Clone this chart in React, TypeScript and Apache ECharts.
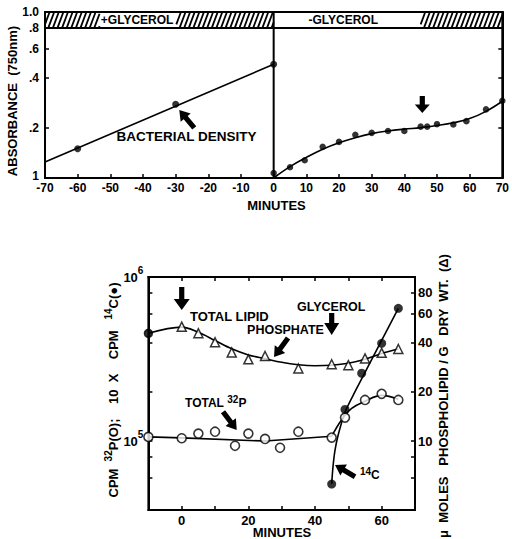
import React, { useEffect, useRef } from 'react';
import * as echarts from 'echarts';

const FONT = '"Liberation Sans", Arial, Helvetica, sans-serif';
const L = (v: number) => Math.log10(v);

// ---------- Upper panel: absorbance (750 nm) vs minutes ----------
const growthMinutes = [-60, -30, 0];
const growthAbs = [0.15, 0.278, 0.484];
const growthFitMinutes = [-70, 0];
const growthFitAbs = [0.125, 0.484];
const starvMinutes = [0, 5, 9.5, 15, 20, 25, 30, 35, 40, 45, 47, 50, 55, 59, 65, 70];
const starvAbs = [0.107, 0.116, 0.128, 0.154, 0.165, 0.182, 0.187, 0.192, 0.192, 0.204, 0.204, 0.211, 0.21, 0.22, 0.259, 0.292];
const starvFitMinutes = [0, 5, 10, 15, 20, 25, 30, 35, 40, 45, 50, 55, 60, 65, 70];
const starvFitAbs = [0.1, 0.117, 0.133, 0.149, 0.163, 0.175, 0.185, 0.192, 0.197, 0.201, 0.207, 0.215, 0.228, 0.252, 0.29];
const absTickValues = [0.1, 0.2, 0.4, 0.6, 0.8, 1.0];
const absTickLabels = ['1', '.2', '.4', '.6', '.8', '1.0'];
const glycerolHatched = [[-70, -53.3], [-29.8, 0], [45, 70]];
const glycerolBarBottom = 0.8;

// ---------- Lower panel ----------
const lipidMinutes = [-10, 0, 5, 10, 15, 20, 25, 35, 45, 50, 55, 60, 65];
const lipidUmol = [45.4, 49.8, 45.4, 40, 34.7, 31.5, 33, 27.7, 29.4, 29, 31.9, 34.5, 36.4];
const lipidFitMinutes = [-10, 0, 5, 10, 15, 20, 25, 30, 35, 40, 45, 50, 55, 60, 65];
const lipidFitUmol = [45.4, 49.5, 46, 41, 36.5, 33.5, 31.8, 30.2, 29.2, 28.8, 29, 29.8, 31.5, 34.2, 36.4];
const p32Minutes = [-10, 0, 5, 10, 16, 20, 25, 29.5, 35, 45, 49, 55, 60, 65];
const p32Cpm = [1.06e5, 1.04e5, 1.11e5, 1.14e5, 0.936e5, 1.11e5, 1.03e5, 0.91e5, 1.14e5, 1.05e5, 1.39e5, 1.78e5, 1.94e5, 1.78e5];
const p32FlatMinutes = [-10, 0, 25, 45];
const p32FlatCpm = [1.06e5, 1.045e5, 1.0e5, 1.07e5];
const p32RiseMinutes = [45, 48, 51, 55, 60, 65];
const p32RiseCpm = [1.07e5, 1.35e5, 1.58e5, 1.75e5, 1.9e5, 1.8e5];
const c14Minutes = [45, 49, 54, 60, 65];
const c14Cpm = [0.547e5, 1.56e5, 2.59e5, 3.94e5, 6.44e5];
const c14FitMinutes = [45, 45.4, 46, 47, 49, 52, 65];
const c14FitCpm = [0.547e5, 0.7e5, 0.88e5, 1.1e5, 1.5e5, 2.0e5, 6.44e5];
const cpmTicks = [6e4, 8e4, 1e5, 2e5, 4e5, 6e5, 8e5, 1e6];
const cpmLabelTicks = [1e5, 1e6];
const umolTicks = [6, 8, 10, 20, 40, 60, 80];
const umolLabelTicks = [10, 20, 40, 60, 80];
const lowerLabelMinutes = [0, 20, 40, 60];

const pairs = (xs: number[], ys: number[]) => xs.map((x, i) => [x, L(ys[i])]);

const txt = (size: number) => ({ fontFamily: FONT, fontWeight: 'bold' as const, fontSize: size, color: '#000' });

function buildOption() {
  const tickStyle = { show: true, inside: true, length: 4, lineStyle: { color: '#000', width: 1.5 } };
  const lineAxis = { show: true, onZero: false, lineStyle: { color: '#000', width: 2 } };
  return {
    animation: false,
    grid: [
      { left: 45, top: 12, width: 460, height: 166, show: true, borderColor: '#000', borderWidth: 2 },
      { left: 148.4, top: 277, width: 266.6, height: 233, show: true, borderColor: '#000', borderWidth: 2 },
    ],
    xAxis: [
      {
        type: 'value', gridIndex: 0, min: -70, max: 70, interval: 10, position: 'bottom',
        axisLine: lineAxis, axisTick: tickStyle, splitLine: { show: false },
        axisLabel: { ...txt(12), margin: 4, formatter: (v: number) => String(v) },
      },
      {
        type: 'value', gridIndex: 1, min: -10, max: 70, interval: 10, position: 'bottom',
        axisLine: lineAxis, axisTick: tickStyle, splitLine: { show: false },
        axisLabel: { ...txt(13), margin: 4, formatter: (v: number) => (lowerLabelMinutes.includes(v) ? String(v) : '') },
      },
      {
        type: 'value', gridIndex: 1, min: -10, max: 70, interval: 10, position: 'top',
        axisLine: lineAxis, axisTick: tickStyle, splitLine: { show: false }, axisLabel: { show: false },
      },
    ],
    yAxis: [
      {
        type: 'value', gridIndex: 0, min: -1, max: 0, position: 'left',
        axisLine: lineAxis, splitLine: { show: false },
        axisTick: { ...tickStyle, customValues: absTickValues.map(L) },
        axisLabel: {
          ...txt(12), margin: 6, customValues: absTickValues.map(L),
          formatter: (v: number) => {
            const i = absTickValues.findIndex((t) => Math.abs(L(t) - v) < 1e-6);
            if (i === 0) return '{lo|' + absTickLabels[0] + '}';
            return i >= 0 ? absTickLabels[i] : '';
          },
          rich: { lo: { ...txt(12), padding: [0, 0, 5, 0] } },
        },
      },
      {
        type: 'value', gridIndex: 0, min: -1, max: 0, position: 'right',
        axisLine: lineAxis, splitLine: { show: false },
        axisTick: { ...tickStyle, customValues: absTickValues.map(L) },
        axisLabel: { show: false },
      },
      {
        type: 'value', gridIndex: 1, min: L(38000), max: 6, position: 'left',
        axisLine: lineAxis, splitLine: { show: false },
        axisTick: { ...tickStyle, customValues: cpmTicks.map(L) },
        axisLabel: {
          margin: 5, customValues: cpmLabelTicks.map(L),
          formatter: (v: number) => `{b|10}{s|${Math.round(v)}}`,
          rich: {
            b: { ...txt(13) },
            s: { ...txt(10), padding: [0, 0, 13, 0] },
          },
        },
      },
      {
        type: 'value', gridIndex: 1, min: L(3.8), max: 2, position: 'right',
        axisLine: lineAxis, splitLine: { show: false },
        axisTick: { ...tickStyle, customValues: umolTicks.map(L) },
        axisLabel: {
          ...txt(13), margin: 3, customValues: umolLabelTicks.map(L),
          formatter: (v: number) => String(Math.round(Math.pow(10, v))),
        },
      },
    ],
    series: [
      {
        type: 'line', xAxisIndex: 0, yAxisIndex: 0, data: pairs(growthFitMinutes, growthFitAbs),
        showSymbol: false, lineStyle: { color: '#000', width: 1.6 }, z: 2,
      },
      {
        type: 'scatter', xAxisIndex: 0, yAxisIndex: 0, data: pairs(growthMinutes, growthAbs),
        symbol: 'circle', symbolSize: 7, itemStyle: { color: '#000' }, z: 3,
      },
      {
        type: 'line', xAxisIndex: 0, yAxisIndex: 0, data: pairs(starvFitMinutes, starvFitAbs),
        smooth: 0.4, showSymbol: false, lineStyle: { color: '#000', width: 1.6 }, z: 2,
      },
      {
        type: 'scatter', xAxisIndex: 0, yAxisIndex: 0, data: pairs(starvMinutes, starvAbs),
        symbol: 'circle', symbolSize: 6.5, itemStyle: { color: '#000' }, z: 3,
      },
      {
        type: 'custom', xAxisIndex: 0, yAxisIndex: 0, data: [[0, 0]], silent: true, z: 5, clip: false,
        renderItem: (_p: any, api: any) => {
          const children: any[] = [];
          const [xl, yt] = api.coord([-70, 0]);
          const [xr, yb] = api.coord([70, L(glycerolBarBottom)]);
          const h = yb - yt;
          children.push({ type: 'rect', shape: { x: xl, y: yt, width: xr - xl, height: h }, style: { fill: '#fff', stroke: '#000', lineWidth: 2 } });
          const slant = 6, step = 4.6;
          glycerolHatched.forEach(([a, b]) => {
            const x0 = api.coord([a, 0])[0];
            const x1 = api.coord([b, 0])[0];
            for (let s = x0 - slant; s < x1; s += step) {
              let ax = s, ay = yb, bx = s + slant, by = yt;
              if (ax < x0) { const t = (x0 - ax) / slant; ax = x0; ay = yb - t * h; }
              if (bx > x1) { const t = (bx - x1) / slant; bx = x1; by = yt + t * h; }
              if (bx <= ax) continue;
              children.push({ type: 'line', shape: { x1: ax, y1: ay, x2: bx, y2: by }, style: { stroke: '#000', lineWidth: 1.8 } });
            }
          });
          const d0 = api.coord([0, -1]);
          const d1 = api.coord([0, 0]);
          children.push({ type: 'line', shape: { x1: d0[0], y1: d0[1], x2: d1[0], y2: d1[1] }, style: { stroke: '#000', lineWidth: 2 } });
          return { type: 'group', children };
        },
      },
      {
        type: 'line', xAxisIndex: 1, yAxisIndex: 3, data: pairs(lipidFitMinutes, lipidFitUmol),
        smooth: 0.35, showSymbol: false, lineStyle: { color: '#000', width: 1.6 }, z: 2,
      },
      {
        type: 'scatter', xAxisIndex: 1, yAxisIndex: 3,
        data: pairs(lipidMinutes, lipidUmol).map((d, i) =>
          i === 0 ? { value: d, symbol: 'circle', symbolSize: 8, itemStyle: { color: '#000', borderColor: '#000' } } : d),
        symbol: 'triangle', symbolSize: 9, itemStyle: { color: '#fff', borderColor: '#000', borderWidth: 1.5 }, z: 3,
      },
      {
        type: 'line', xAxisIndex: 1, yAxisIndex: 2, data: pairs(p32FlatMinutes, p32FlatCpm),
        showSymbol: false, lineStyle: { color: '#000', width: 1.6 }, z: 2,
      },
      {
        type: 'line', xAxisIndex: 1, yAxisIndex: 2, data: pairs(p32RiseMinutes, p32RiseCpm),
        smooth: 0.4, showSymbol: false, lineStyle: { color: '#000', width: 1.6 }, z: 2,
      },
      {
        type: 'scatter', xAxisIndex: 1, yAxisIndex: 2, data: pairs(p32Minutes, p32Cpm),
        symbol: 'circle', symbolSize: 9, itemStyle: { color: '#fff', borderColor: '#000', borderWidth: 1.6 }, z: 3,
      },
      {
        type: 'line', xAxisIndex: 1, yAxisIndex: 2, data: pairs(c14FitMinutes, c14FitCpm),
        smooth: 0.3, showSymbol: false, lineStyle: { color: '#000', width: 1.6 }, z: 2,
      },
      {
        type: 'scatter', xAxisIndex: 1, yAxisIndex: 2, data: pairs(c14Minutes, c14Cpm),
        symbol: 'circle', symbolSize: 9, itemStyle: { color: '#000' }, z: 4,
      },
    ],
  };
}

function arrow(tip: number[], dx: number, dy: number, headLen: number, headHalf: number, shaftHalf: number) {
  const len = Math.hypot(dx, dy);
  const tail = [tip[0] + dx, tip[1] + dy];
  const rot = Math.atan2(dy, -dx);
  const b = len - headLen;
  return {
    type: 'polygon', x: tail[0], y: tail[1], rotation: rot, z: 100, silent: true,
    shape: { points: [[0, -shaftHalf], [b, -shaftHalf], [b, -headHalf], [len, 0], [b, headHalf], [b, shaftHalf], [0, shaftHalf]] },
    style: { fill: '#000' },
  };
}

function buildGraphic(chart: any) {
  const p0 = (x: number, v: number) => chart.convertToPixel({ xAxisIndex: 0, yAxisIndex: 0 }, [x, L(v)]) as number[];
  const p1 = (x: number, v: number) => chart.convertToPixel({ xAxisIndex: 1, yAxisIndex: 2 }, [x, L(v)]) as number[];
  const g: any[] = [];
  const text = (pt: number[], s: string, size: number, align = 'left', extra: any = {}) =>
    g.push({
      type: 'text', x: pt[0], y: pt[1], z: 100, silent: true, ...extra,
      style: { text: s, fontFamily: FONT, fontWeight: 'bold', fontSize: size, fill: '#000', align, verticalAlign: 'middle' },
    });
  const richSmall = {
    b: { fontFamily: FONT, fontWeight: 'bold', fontSize: 12, fill: '#000' },
    s: { fontFamily: FONT, fontWeight: 'bold', fontSize: 10, fill: '#000', padding: [0, 0, 8, 0] },
  };

  // upper panel
  text(p0(-48.1, 0.177), 'BACTERIAL DENSITY', 13.5);
  g.push(arrow(p0(-28.9, 0.257), 15, 18, 10, 6.5, 2.6));
  text(p0(-41.8, 0.894), '+GLYCEROL', 12, 'center');
  text(p0(21.3, 0.894), '-GLYCEROL', 12, 'center');
  g.push(arrow(p0(45.5, 0.246), 0, -17, 8.5, 7.5, 2.6));
  text([12, 101], 'ABSORBANCE  (750nm)', 13, 'center', { rotation: Math.PI / 2 });
  text([276.5, 205], 'MINUTES', 13, 'center');

  // lower panel
  g.push(arrow(p1(0, 6.3e5), 0, -23, 11, 8, 2.6));
  text(p1(2.48, 5.78e5), 'TOTAL LIPID', 13);
  text(p1(19.6, 4.75e5), 'PHOSPHATE', 12.5);
  g.push(arrow(p1(27.7, 3.25e5), 14, -19, 10, 6.5, 2.6));
  text(p1(34.6, 6.57e5), 'GLYCEROL', 12.5);
  g.push(arrow(p1(45, 4.43e5), 0, -22, 12, 7.5, 2.6));
  const tp = p1(1.0, 1.7e5);
  g.push({
    type: 'text', x: tp[0], y: tp[1], z: 100, silent: true,
    style: { text: '{b|TOTAL }{s|32}{b|P}', align: 'left', verticalAlign: 'middle', rich: richSmall },
  });
  g.push(arrow(p1(16.5, 1.167e5), -13.7, -18.3, 10, 6.5, 2.6));
  const cp = p1(53.5, 6.2e4);
  g.push({
    type: 'text', x: cp[0], y: cp[1], z: 100, silent: true,
    style: { text: '{s|14}{b|C}', align: 'left', verticalAlign: 'middle', rich: richSmall },
  });
  g.push(arrow(p1(46, 7.15e4), 20, 11.7, 10, 6.5, 2.6));
  text([282, 532], 'MINUTES', 13, 'center');

  const richT = {
    b: { fontFamily: FONT, fontWeight: 'bold', fontSize: 13, fill: '#000' },
    s: { fontFamily: FONT, fontWeight: 'bold', fontSize: 10, fill: '#000', padding: [0, 0, 9, 0] },
  };
  g.push({
    type: 'text', x: 113, y: 390, rotation: Math.PI / 2, z: 100, silent: true,
    style: {
      text: '{b|CPM  }{s|32}{b|P(O);    10  X    CPM   }{s|14}{b|C(●)}',
      align: 'center', verticalAlign: 'middle', rich: richT,
    },
  });
  g.push({
    type: 'text', x: 443, y: 396, rotation: Math.PI / 2, z: 100, silent: true,
    style: {
      text: 'μ  MOLES   PHOSPHOLIPID / G   DRY  WT.  (Δ)', fontFamily: FONT, fontWeight: 'bold', fontSize: 13,
      fill: '#000', align: 'center', verticalAlign: 'middle',
    },
  });
  return g;
}

export default function App() {
  const ref = useRef<HTMLDivElement>(null);
  useEffect(() => {
    const chart = echarts.init(ref.current!, null, { renderer: 'svg' });
    chart.setOption(buildOption() as any);
    chart.setOption({ graphic: buildGraphic(chart) } as any);
    return () => chart.dispose();
  }, []);
  return <div ref={ref} style={{ position: 'fixed', left: 0, top: 0, width: 512, height: 539, background: '#fff' }} />;
}
